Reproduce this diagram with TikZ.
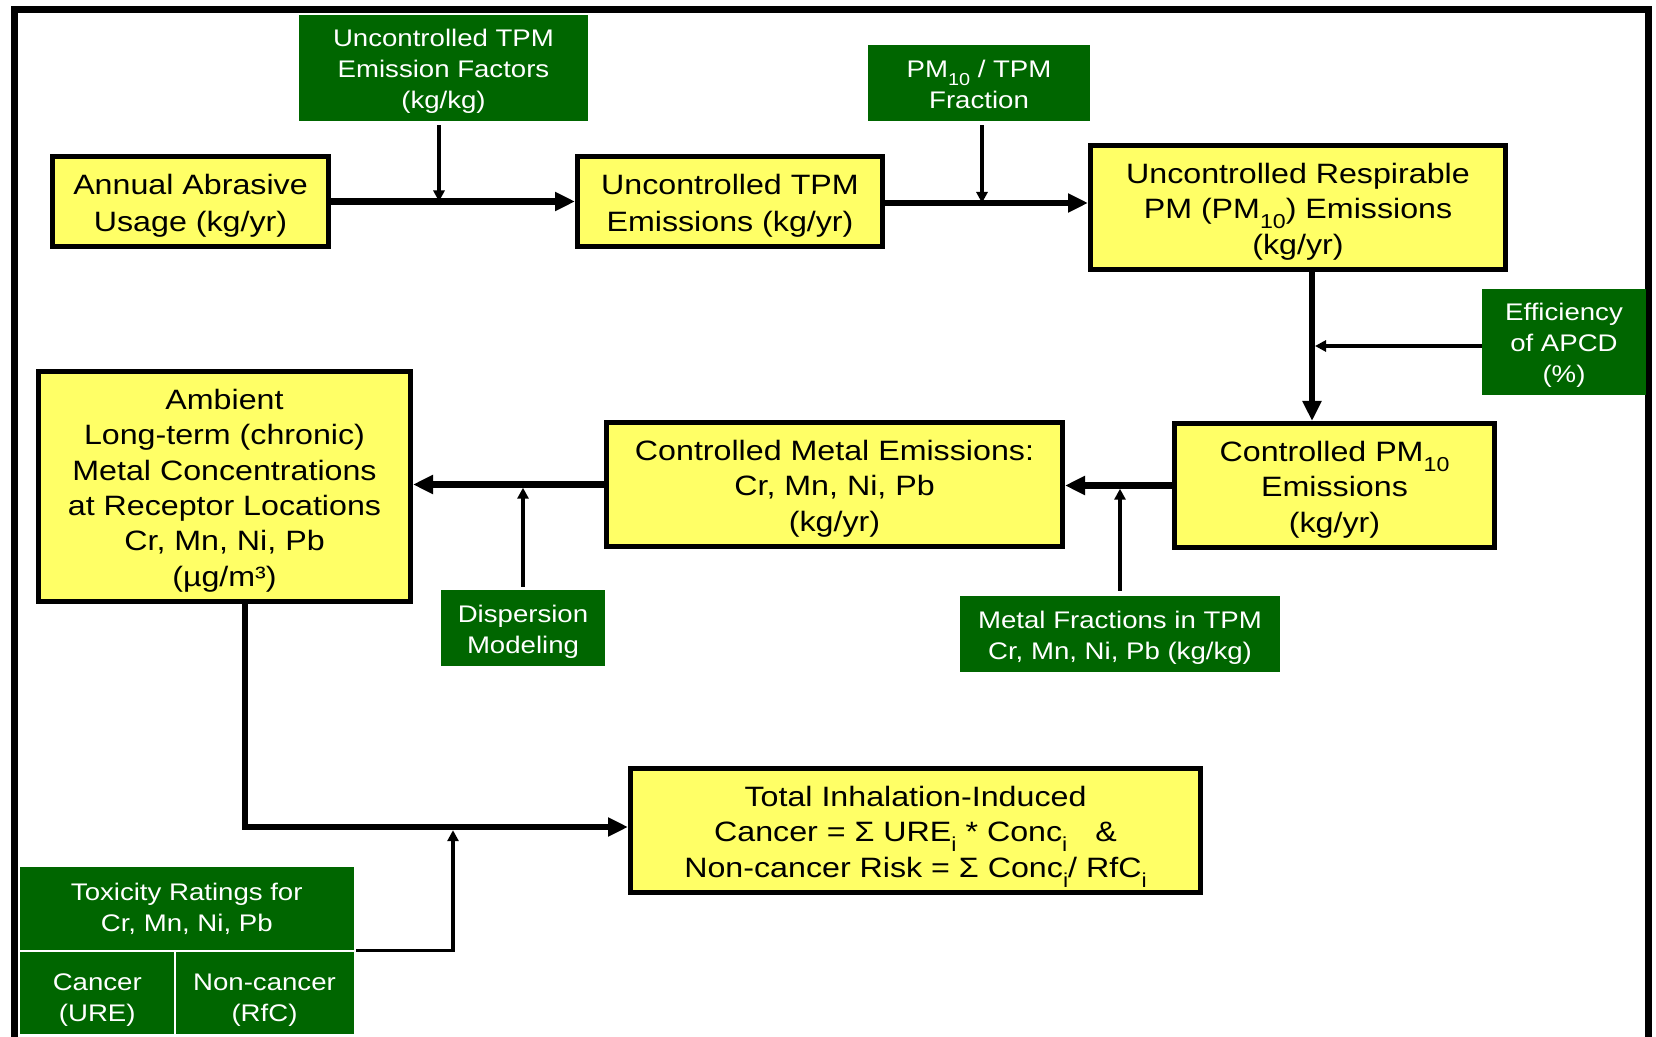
\documentclass[tikz,border=0pt]{standalone}
\usepackage{fontspec}
\setmainfont{Liberation Sans}[FakeStretch=1.15]
\usetikzlibrary{arrows.meta}
\definecolor{boxyellow}{RGB}{255,255,102}
\definecolor{boxgreen}{RGB}{0,102,0}
\newcommand{\lowsub}[1]{\smash{\raisebox{-0.36em}{\scalebox{0.72}{#1}}}}
\newcommand{\boxstrut}{\rule[-0.23em]{0pt}{1.27em}}

\begin{document}
\begin{tikzpicture}[
    x=0.5pt, y=-0.5pt,
    flowbox/.style={draw, line width=2.5pt, fill=boxyellow, align=center, inner sep=0pt, font=\fontsize{14}{17.7}\selectfont},
    inbox/.style={fill=boxgreen, text=white, align=center, inner sep=0pt, font=\fontsize{12}{15.5}\selectfont},
    mainflow/.style={line width=3.25pt, -{Triangle[length=10pt,width=9pt]}},
    feedarrow/.style={line width=1.75pt, -{Triangle[length=5.5pt,width=5.5pt]}}
]
\useasboundingbox (0,0) rectangle (1656,1037);
\clip (0,0) rectangle (1656,1037);
\fill[white] (0,0) rectangle (1656,1037);
\draw[line width=3.5pt] (14.5,1060) |- (1648.5,9.5) -- (1648.5,1060);

% emissions chain
\node[flowbox, minimum width=138pt, minimum height=45pt] (annual) at (190.5,201.5) {\boxstrut Annual Abrasive\\Usage (kg/yr)\boxstrut};
\node[flowbox, minimum width=152.5pt, minimum height=45pt] (tpm) at (730,201.5) {\boxstrut Uncontrolled TPM\\Emissions (kg/yr)\boxstrut};
\node[flowbox, minimum width=207.5pt, minimum height=62pt] (resp) at (1298,207.5) {\boxstrut Uncontrolled Respirable\\PM (PM\lowsub{10}) Emissions\\(kg/yr)\boxstrut};
\node[flowbox, minimum width=160pt, minimum height=62pt] (ctrlpm) at (1334.5,485.5) {\boxstrut Controlled PM\lowsub{10}\\Emissions\\(kg/yr)\boxstrut};
\node[flowbox, minimum width=228pt, minimum height=62pt] (metal) at (834.5,484.5) {\boxstrut Controlled Metal Emissions:\\Cr, Mn, Ni, Pb\\(kg/yr)\boxstrut};
\node[flowbox, minimum width=186pt, minimum height=115pt] (ambient) at (224.5,486.5) {\boxstrut Ambient\\Long-term (chronic)\\Metal Concentrations\\at Receptor Locations\\Cr, Mn, Ni, Pb\\(µg/m³)\boxstrut};
\node[flowbox, minimum width=285pt, minimum height=62pt] (total) at (915.5,830.5) {\boxstrut Total Inhalation-Induced\\Cancer = Σ URE\lowsub{i} * Conc\lowsub{i}\quad\&\\Non-cancer Risk = Σ Conc\lowsub{i}/ RfC\lowsub{i}\boxstrut};

% inputs
\node[inbox, minimum width=144.5pt, minimum height=53pt] (ef) at (443.5,68) {\boxstrut Uncontrolled TPM\\Emission Factors\\(kg/kg)\boxstrut};
\node[inbox, minimum width=111pt, minimum height=38pt] (frac) at (979,83) {\boxstrut PM\lowsub{10} / TPM\\Fraction\boxstrut};
\node[inbox, minimum width=82pt, minimum height=53pt] (eff) at (1564,342) {\boxstrut Efficiency\\of APCD\\(\%)\boxstrut};
\node[inbox, minimum width=160pt, minimum height=38pt] (mfrac) at (1120,634) {\boxstrut Metal Fractions in TPM\\Cr, Mn, Ni, Pb (kg/kg)\boxstrut};
\node[inbox, minimum width=82pt, minimum height=38pt] (disp) at (523,628) {\boxstrut Dispersion\\Modeling\boxstrut};
\node[inbox, minimum width=167.25pt, minimum height=42pt] (toxhead) at (186.75,909) {Toxicity Ratings for\\Cr, Mn, Ni, Pb};
\node[inbox, minimum width=77.75pt, minimum height=41.5pt] (toxcan) at (97.25,992.5) {\rule{0pt}{15.5pt}Cancer\\(URE)};
\node[inbox, minimum width=89.5pt, minimum height=41.5pt] (toxnon) at (264.5,992.5) {\rule{0pt}{15.5pt}Non-cancer\\(RfC)};
\draw[white, line width=1pt] (toxhead.south west) -- (toxhead.south east);
\draw[white, line width=1pt] (toxcan.north east) -- (toxcan.south east);

% connectors
\coordinate (drop) at (1312,0);
\coordinate (riser) at (245,827);
\coordinate (tap) at (453,0);
\draw[mainflow] (annual) -- (tpm);
\draw[feedarrow, shorten <=2pt] ([xshift=-2.25pt]ef.south) -- ([xshift=-2.25pt]ef.south |- annual);
\draw[mainflow] ([yshift=-0.75pt]tpm.east) -- ([yshift=-0.75pt]tpm.east -| resp.west);
\draw[feedarrow, shorten <=2pt] ([xshift=1.5pt]frac.south) -- ([xshift=1.5pt,yshift=-0.75pt]frac.south |- tpm.east);
\draw[mainflow] (resp.south -| drop) -- (ctrlpm.north -| drop);
\draw[feedarrow] ([yshift=-2pt]eff.west) -- ([xshift=1.5pt,yshift=-2pt]eff.west -| drop);
\draw[mainflow] (ctrlpm.west) -- (ctrlpm.west -| metal.east);
\draw[feedarrow, shorten <=2.5pt] (mfrac.north) -- ([yshift=-1.6pt]mfrac.north |- ctrlpm.west);
\draw[mainflow] (metal.west) -- (metal.west -| ambient.east);
\draw[feedarrow, shorten <=1.5pt] (disp.north) -- ([yshift=-1.6pt]disp.north |- metal.west);
\draw[mainflow] (ambient.south -| riser) |- (total.west |- riser);
\draw[feedarrow] ([xshift=1pt]toxnon.north east) -| ([yshift=-1.6pt]tap |- riser);
\end{tikzpicture}
\end{document}
